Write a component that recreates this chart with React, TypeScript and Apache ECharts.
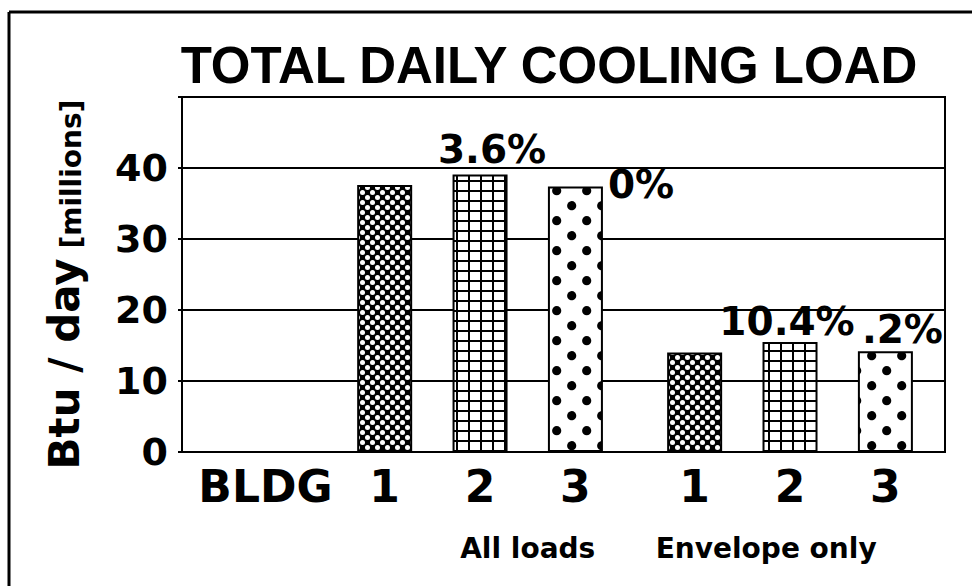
import React, { useEffect, useRef } from 'react';
import * as echarts from 'echarts';

// ---------- data ----------
const TITLE = 'TOTAL DAILY COOLING LOAD';
const Y_NAME_MAIN = 'Btu / day';
const Y_NAME_UNIT = '[millions]';
const AXIS_LEAD = 'BLDG';
const BUILDINGS = ['1', '2', '3'];
const GROUPS = ['All loads', 'Envelope only'];
const ALL_LOADS = [37.6, 39.1, 37.4];
const ENVELOPE_ONLY = [14.0, 15.5, 14.2];
const ALL_LOADS_PCT = ['', '3.6%', '0%'];
const ENVELOPE_PCT = ['', '10.4%', '.2%'];
const Y_TICKS = [0, 10, 20, 30, 40];
const Y_MAX = 50;

// ---------- layout (slots on a fine category axis) ----------
const SLOT_COUNT = 32;
const LEAD_SLOT = 3;
const GROUP_BAR_SLOTS = [[8, 12, 16], [21, 25, 29]];
const GROUP_LABEL_SLOTS = [14, 24];
// per-building percent label placement [group][building]
const PCT_LABEL_STYLE: any[][] = [
  [null, { position: 'top', distance: 5, offset: [12, 0] }, { position: ['100%', 0], align: 'left', verticalAlign: 'middle', offset: [5, -2] }],
  [null, { position: 'top', distance: 1, offset: [-3, 0] }, { position: 'top', distance: 2, offset: [17, 0] }],
];

const svgUrl = (w: number, h: number, body: string) =>
  'data:image/svg+xml;charset=utf-8,' +
  encodeURIComponent(`<svg xmlns="http://www.w3.org/2000/svg" width="${w}" height="${h}">${body}</svg>`);

const PAT_FINE = {
  image: svgUrl(10, 10, '<rect width="10" height="10" fill="#000"/><circle cx="2.5" cy="2.5" r="2.5" fill="#fff"/><circle cx="7.5" cy="7.5" r="2.5" fill="#fff"/>'),
  repeat: 'repeat', imageWidth: 10, imageHeight: 10,
};
const PAT_GRID = {
  image: svgUrl(12, 10, '<rect width="12" height="10" fill="#fff"/><rect x="0" y="0" width="2" height="10" fill="#000"/><rect x="0" y="0" width="12" height="2" fill="#000"/>'),
  repeat: 'repeat', imageWidth: 12, imageHeight: 10,
};
const PAT_DOTS = {
  image: svgUrl(30, 30, '<rect width="30" height="30" fill="#fff"/>' +
    [[16.7, 10.7], [1.7, 25.7], [31.7, 25.7], [1.7, -4.3], [31.7, -4.3]]
      .map(([x, y]) => `<circle cx="${x}" cy="${y}" r="4.6" fill="#000"/>`).join('')),
  repeat: 'repeat', imageWidth: 30, imageHeight: 30,
};
const PATTERNS = [PAT_FINE, PAT_GRID, PAT_DOTS];

const FONT = 'DejaVu Sans';

export default function App() {
  const ref = useRef<HTMLDivElement>(null);
  useEffect(() => {
    if (!ref.current) return;
    const chart = echarts.init(ref.current, undefined, { renderer: 'svg' });

    const axisCats: string[] = new Array(SLOT_COUNT).fill('');
    axisCats[LEAD_SLOT] = AXIS_LEAD;
    const groupCats: string[] = new Array(SLOT_COUNT).fill('');
    const data: any[] = new Array(SLOT_COUNT).fill('-');
    const groupValues = [ALL_LOADS, ENVELOPE_ONLY];
    const groupPct = [ALL_LOADS_PCT, ENVELOPE_PCT];
    GROUPS.forEach((g, gi) => {
      groupCats[GROUP_LABEL_SLOTS[gi]] = g;
      BUILDINGS.forEach((b, bi) => {
        const slot = GROUP_BAR_SLOTS[gi][bi];
        axisCats[slot] = b;
        const pct = groupPct[gi][bi];
        const ls = PCT_LABEL_STYLE[gi][bi];
        data[slot] = {
          value: groupValues[gi][bi],
          itemStyle: { color: PATTERNS[bi] },
          label: pct
            ? {
                show: true,
                formatter: pct,
                color: '#000',
                fontFamily: FONT,
                fontWeight: 'bold',
                fontSize: 39,
                ...ls,
              }
            : { show: false },
        };
      });
    });

    const option: any = {
      animation: false,
      backgroundColor: '#fff',
      title: {
        text: TITLE,
        left: 549,
        top: 40,
        padding: 0,
        textAlign: 'center',
        textStyle: { fontFamily: 'Liberation Sans', fontWeight: 'bold', fontSize: 51, color: '#000' },
      },
      grid: {
        left: 182, top: 97, right: 27, bottom: 134,
        show: true, borderColor: '#000', borderWidth: 2, backgroundColor: 'transparent',
        outerBoundsMode: 'none',
      },
      xAxis: [
        {
          type: 'category',
          data: axisCats,
          position: 'bottom',
          axisLine: { show: true, lineStyle: { color: '#000', width: 2 } },
          axisTick: { show: false },
          splitLine: { show: false },
          axisLabel: { interval: 0, margin: 12, fontFamily: FONT, fontWeight: 'bold', fontSize: 44, color: '#000' },
        },
        {
          type: 'category',
          data: groupCats,
          position: 'bottom',
          axisLine: { show: false },
          axisTick: { show: false },
          splitLine: { show: false },
          axisLabel: { interval: 0, margin: 82, fontFamily: FONT, fontWeight: 'bold', fontSize: 28, color: '#000' },
        },
      ],
      yAxis: {
        type: 'value',
        min: 0,
        max: Y_MAX,
        interval: 10,
        axisLine: { show: true, lineStyle: { color: '#000', width: 2 } },
        axisTick: { show: true, length: 4, lineStyle: { color: '#000', width: 2 } },
        splitLine: { show: true, lineStyle: { color: '#000', width: 2 } },
        axisLabel: {
          margin: 14,
          fontFamily: FONT, fontWeight: 'bold', fontSize: 38, color: '#000',
          formatter: (v: number) => (Y_TICKS.includes(v) ? String(v) : ''),
        },
        name: `{a|${Y_NAME_MAIN}}{b| ${Y_NAME_UNIT}}`,
        nameLocation: 'middle',
        nameRotate: 90,
        nameGap: 97,
        nameTextStyle: {
          color: '#000',
          padding: [0, 20, 0, 0],
          rich: {
            a: { fontFamily: FONT, fontWeight: 'bold', fontSize: 42, color: '#000', verticalAlign: 'bottom' },
            b: { fontFamily: FONT, fontWeight: 'bold', fontSize: 28, color: '#000', verticalAlign: 'bottom' },
          },
        },
      },
      series: [
        {
          type: 'bar',
          xAxisIndex: 0,
          data,
          barWidth: 55,
          silent: true,
          itemStyle: { borderColor: '#000', borderWidth: 2 },
          emphasis: { disabled: true },
        },
      ],
      graphic: [
        { type: 'line', shape: { x1: 9, y1: 12, x2: 972, y2: 12 }, style: { stroke: '#000', lineWidth: 3 } },
        { type: 'line', shape: { x1: 9, y1: 12, x2: 9, y2: 586 }, style: { stroke: '#000', lineWidth: 3 } },
      ],
    };
    chart.setOption(option);
    return () => chart.dispose();
  }, []);
  return (
    <div
      ref={ref}
      style={{ position: 'fixed', left: 0, top: 0, width: 972, height: 586, background: '#fff' }}
    />
  );
}
